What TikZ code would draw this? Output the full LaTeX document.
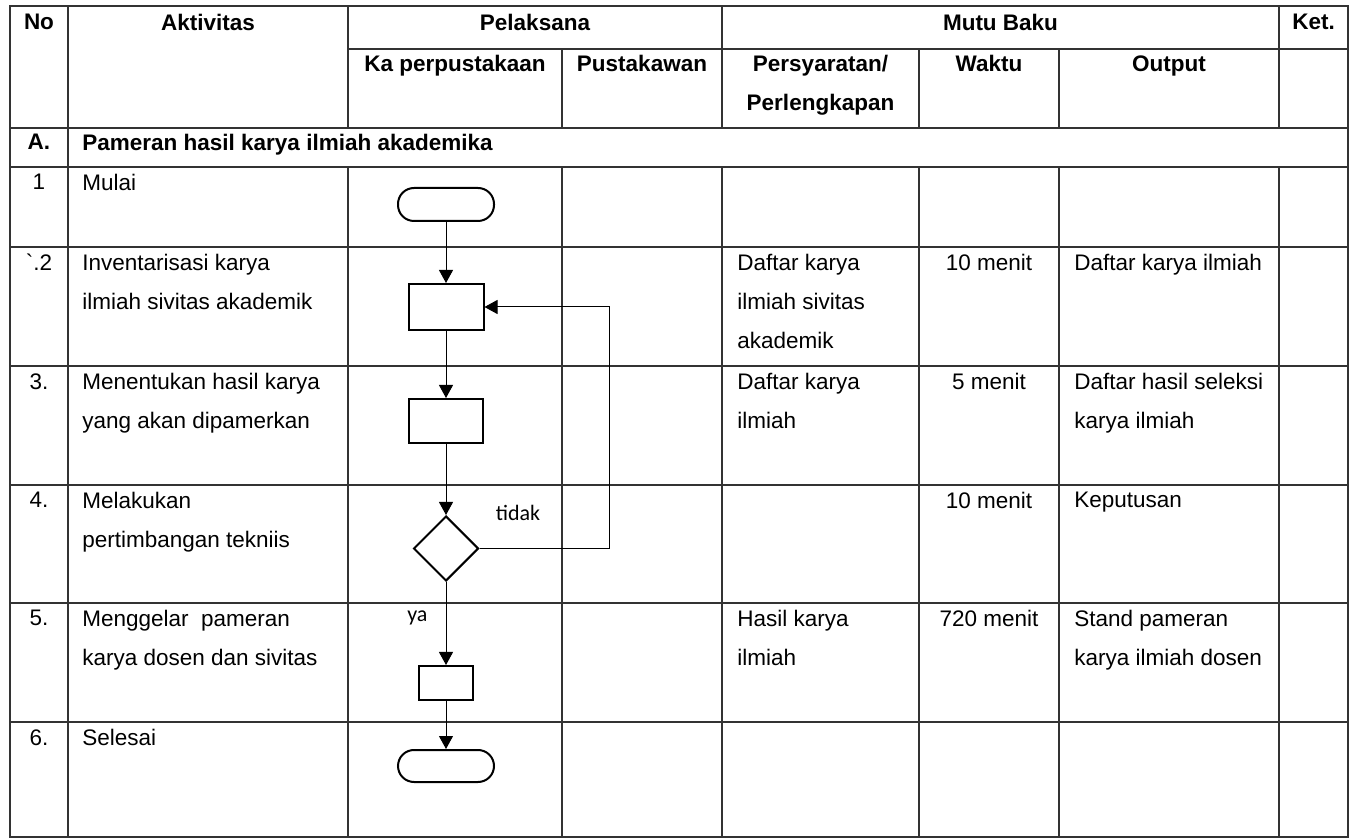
\documentclass[tikz,border=0pt]{standalone}
\usepackage{fontspec}
\setmainfont{Liberation Sans}
\newfontfamily\lblfont{Carlito}
\usepackage{tikz}
\usetikzlibrary{calc, positioning, arrows.meta, shapes.geometric}
\tikzset{
    tabline/.style={draw=black!80, line width=0.7pt, line cap=rect},
    txt/.style={anchor=north west, inner sep=0pt, align=left, font=\fontsize{11.25}{19.5}\selectfont},
    ctext/.style={txt, anchor=north, align=center},
    hdr/.style={ctext, font=\fontsize{11.25}{19.5}\selectfont\bfseries},
    term/.style={rectangle, draw=black, line width=1pt, rounded corners=8pt, minimum width=48pt, minimum height=16.5pt},
    process/.style={rectangle, draw=black, line width=1pt},
    decision/.style={diamond, draw=black, line width=1pt, minimum width=32.5pt, minimum height=32.5pt, inner sep=0pt},
    arrow/.style={-{Triangle[length=6.5pt, width=7pt]}, line width=0.5pt},
    lbl/.style={font=\lblfont\fontsize{11}{13}\selectfont, inner sep=0pt}
}
\begin{document}
\begin{tikzpicture}[x=0.5pt, y=-0.5pt]
    \useasboundingbox (0,0) rectangle (1356,839);

    % Table rules
    \foreach \y in {6,128,167,247,366,485,603,722,837}
        \draw[tabline] (10,\y) -- (1348,\y);
    \draw[tabline] (348,49) -- (1348,49);
    \foreach \x in {10,68,1348}
        \draw[tabline] (\x,6) -- (\x,837);
    \foreach \x/\t in {348/6,562/49,722/6,919/49,1059/49,1279/6}
        \draw[tabline] (\x,\t) -- (\x,128) (\x,167) -- (\x,837);

    % Header
    \node[hdr] (hno) at (39,14) {No};
    \node[hdr] (hakt) at (208,14) {Aktivitas};
    \node[hdr] (hpel) at (535,14) {Pelaksana};
    \node[hdr] (hmutu) at (1000.5,14) {Mutu Baku};
    \node[hdr] (hket) at (1313.5,14) {Ket.};
    \node[hdr] (hka) at (455,55) {Ka perpustakaan};
    \node[hdr] (hpus) at (642,55) {Pustakawan};
    \node[hdr] (hsyarat) at (820.5,55) {Persyaratan/\\Perlengkapan};
    \node[hdr] (hwaktu) at (989,55) {Waktu};
    \node[hdr] (hout) at (1169,55) {Output};

    % Section A
    \node[hdr] (secno) at (39,134) {A.};
    \node[hdr, anchor=north west] (sec) at (82,134) {Pameran hasil karya ilmiah akademika};

    % Row numbers
    \node[ctext] (no1) at (39,174) {1};
    \node[ctext] (no2) at (39,254) {\textasciigrave.2};
    \node[ctext] (no3) at (39,373) {3.};
    \node[ctext] (no4) at (39,492) {4.};
    \node[ctext] (no5) at (39,610) {5.};
    \node[ctext] (no6) at (39,729) {6.};

    % Aktivitas
    \node[txt] (akt1) at (82,174) {Mulai};
    \node[txt] (akt2) at (82,254) {Inventarisasi karya\\ilmiah sivitas akademik};
    \node[txt] (akt3) at (82,373) {Menentukan hasil karya\\yang akan dipamerkan};
    \node[txt] (akt4) at (82,492) {Melakukan\\pertimbangan tekniis};
    \node[txt] (akt5) at (82,610) {Menggelar\ \ pameran\\karya dosen dan sivitas};
    \node[txt] (akt6) at (82,729) {Selesai};

    % Persyaratan
    \node[txt] (syarat2) at (737,254) {Daftar karya\\ilmiah sivitas\\akademik};
    \node[txt] (syarat3) at (737,373) {Daftar karya\\ilmiah};
    \node[txt] (syarat5) at (737,610) {Hasil karya\\ilmiah};

    % Waktu
    \node[ctext] (waktu2) at (989,254) {10 menit};
    \node[ctext] (waktu3) at (989,373) {5 menit};
    \node[ctext] (waktu4) at (989,492) {10 menit};
    \node[ctext] (waktu5) at (989,610) {720 menit};

    % Output
    \node[txt] (out2) at (1074,254) {Daftar karya ilmiah};
    \node[txt] (out3) at (1074,373) {Daftar hasil seleksi\\karya ilmiah};
    \node[txt] (out4) at (1074,492) {Keputusan};
    \node[txt] (out5) at (1074,610) {Stand pameran\\karya ilmiah dosen};

    % Flow
    \node[term] (mulai) at (446,204.5) {};
    \node[process, minimum width=37.5pt, minimum height=23pt, below=30.5pt of mulai] (inv) {};
    \node[process, minimum width=37pt, minimum height=22pt, below=33.5pt of inv] (pilih) {};
    \node[decision, below=35.5pt of pilih] (cek) {};
    \node[process, minimum width=27pt, minimum height=17pt, below=41.5pt of cek] (gelar) {};
    \node[term, minimum height=16pt, below=24pt of gelar] (selesai) {};

    \draw[arrow] (mulai) -- (inv);
    \draw[arrow] (inv) -- (pilih);
    \draw[arrow] (pilih) -- (cek);
    \draw[arrow] (cek) -- node[lbl, pos=0.43, left=9pt] (ya) {ya} (gelar);
    \draw[arrow] (gelar) -- (selesai);

    % Back to inventory
    \coordinate (balik) at ($(cek.east)+(130,0)$);
    \draw[arrow] (cek.east) -- (balik) |- (inv.east);
    \node[lbl] (tidak) at (518,513) {tidak};
\end{tikzpicture}
\end{document}
